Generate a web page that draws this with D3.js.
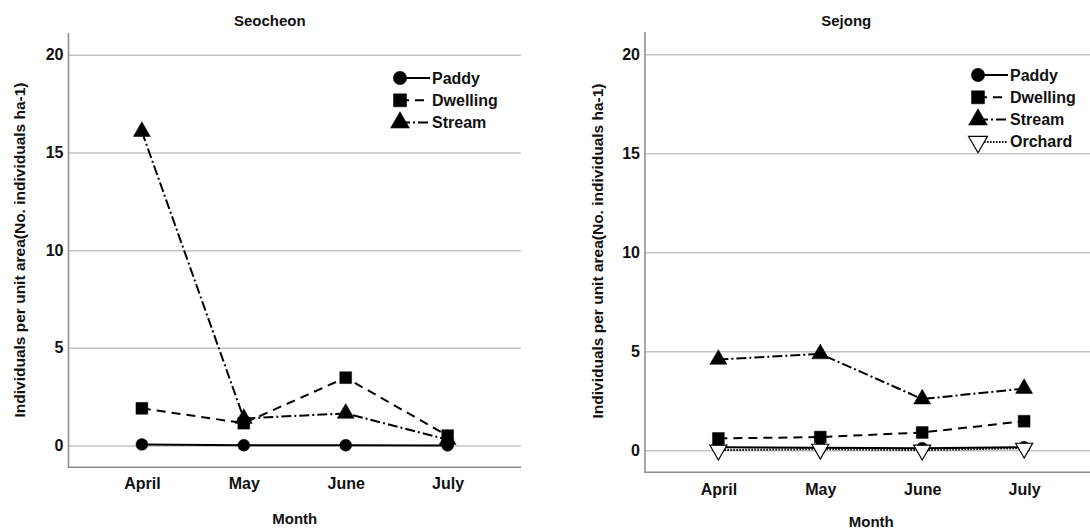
<!DOCTYPE html>
<html>
  <head>
    <meta charset="UTF-8">
    <style>
      body {
        margin: 0;
        background: white;
        font-family: "Liberation Sans", Arial, Helvetica, sans-serif;
      }

      text {
        font-weight: bold;
        fill: #111;
      }

      .grid line {
        stroke: #c4c4c4;
        stroke-width: 1.5;
      }

      .grid path {
        display: none;
      }

      .frame {
        stroke: #8c8c8c;
        stroke-width: 1.5;
        fill: none;
      }
    </style>
    <script src="https://d3js.org/d3.v7.min.js"></script>
  </head>

  <body>
    <svg id="chart"></svg>

    <script type="text/javascript">
      const months = ['April', 'May', 'June', 'July']
      const yTicks = [0, 5, 10, 15, 20]

      const seocheonPaddy = [0.05, 0.01, 0.01, 0.0]
      const seocheonDwelling = [1.9, 1.14, 3.47, 0.5]
      const seocheonStream = [16.07, 1.38, 1.64, 0.3]

      const sejongPaddy = [0.14, 0.12, 0.1, 0.15]
      const sejongDwelling = [0.59, 0.66, 0.89, 1.46]
      const sejongStream = [4.58, 4.86, 2.58, 3.11]
      const sejongOrchard = [0.0, 0.05, 0.0, 0.1]

      const styles = {
        Paddy: {symbol: d3.symbolCircle, size: 110, dash: null, fill: 'black', rotate: 0},
        Dwelling: {symbol: d3.symbolSquare, size: 140, dash: '9,6', fill: 'black', rotate: 0},
        Stream: {symbol: d3.symbolTriangle, size: 125, dash: '10,3,2,3', fill: 'black', rotate: 0},
        Orchard: {symbol: d3.symbolTriangle, size: 125, dash: '1.5,1.5', fill: 'white', rotate: 180}
      }

      const width = 1090
      const height = 530

      let svg = d3.select('#chart')
        .attr('width', width)
        .attr('height', height)

      function getPanelConfig(title, left, top, bottom, extra) {
        return Object.assign({
          title: title,
          left: left,
          plotWidth: 452.5,
          top: top,
          bottom: bottom
        }, extra)
      }

      function styleTicks(axis) {
        axis.select('.domain').remove()
        axis.selectAll('text')
          .style('font-size', '16px')
          .style('font-family', '"Liberation Sans", Arial, sans-serif')
          .style('font-weight', 'bold')
          .attr('fill', '#111')
      }

      function drawPanel(config, series) {
        let {left, plotWidth, top, bottom} = config

        let x = d3.scalePoint()
          .domain(months)
          .range([left, left + plotWidth])
          .padding(0.72)

        let y = d3.scaleLinear()
          .domain([-1.12, 21.12])
          .range([bottom, top])

        let g = svg.append('g')

        // horizontal grid
        g.append('g')
          .attr('class', 'grid')
          .attr('transform', `translate(${left}, 0)`)
          .call(d3.axisLeft(y)
            .tickValues(yTicks)
            .tickSize(-plotWidth)
            .tickFormat(''))

        // left and bottom axis lines
        g.append('path')
          .attr('class', 'frame')
          .attr('d', `M${left},${top}V${bottom}H${left + plotWidth}`)

        let axisY = g.append('g')
          .attr('transform', `translate(${left}, 0)`)
          .call(d3.axisLeft(y)
            .tickValues(yTicks)
            .tickSize(0)
            .tickPadding(5))
        styleTicks(axisY)

        let axisX = g.append('g')
          .attr('transform', `translate(0, ${bottom})`)
          .call(d3.axisBottom(x)
            .tickSize(0)
            .tickPadding(config.xPad))
        styleTicks(axisX)

        // titles
        g.append('text')
          .attr('x', left + plotWidth / 2 - 25)
          .attr('y', 26)
          .attr('text-anchor', 'middle')
          .style('font-size', '15px')
          .text(config.title)

        g.append('text')
          .attr('x', left + plotWidth / 2)
          .attr('y', config.monthY)
          .attr('text-anchor', 'middle')
          .style('font-size', '15px')
          .text('Month')

        g.append('text')
          .attr('transform', `translate(${config.labelX}, ${config.labelY}) rotate(-90)`)
          .attr('text-anchor', 'middle')
          .attr('dominant-baseline', 'central')
          .style('font-size', '15.5px')
          .text('Individuals per unit area(No. individuals ha-1)')

        // lines and markers
        let line = d3.line()
          .x((d, i) => x(months[i]))
          .y(d => y(d))

        series.forEach(s => {
          let st = styles[s.name]
          g.append('path')
            .attr('d', line(s.values))
            .attr('fill', 'none')
            .attr('stroke', 'black')
            .attr('stroke-width', 2)
            .attr('stroke-dasharray', st.dash)
        })

        series.forEach(s => {
          let st = styles[s.name]
          g.selectAll(null)
            .data(s.values)
            .enter()
            .append('path')
            .attr('d', d3.symbol().type(st.symbol).size(st.size))
            .attr('transform', (d, i) => `translate(${x(months[i])}, ${y(d)}) rotate(${st.rotate})`)
            .attr('fill', st.fill)
            .attr('stroke', 'black')
            .attr('stroke-width', st.fill === 'white' ? 1.2 : 0.5)
        })

        // legend
        let legend = g.selectAll('.legend')
          .data(series)
          .enter()
          .append('g')
          .attr('class', 'legend')
          .attr('transform', (d, i) => `translate(${config.legendX}, ${config.legendY + i * 22.3})`)

        legend.append('line')
          .attr('x1', 0)
          .attr('x2', 30)
          .attr('stroke', 'black')
          .attr('stroke-width', 2)
          .attr('stroke-dasharray', d => styles[d.name].dash)

        legend.append('path')
          .attr('d', d => d3.symbol().type(styles[d.name].symbol).size(styles[d.name].size + 30)())
          .attr('transform', d => `rotate(${styles[d.name].rotate})`)
          .attr('fill', d => styles[d.name].fill)
          .attr('stroke', 'black')
          .attr('stroke-width', d => styles[d.name].fill === 'white' ? 1.2 : 0.5)

        legend.append('text')
          .attr('x', 32)
          .attr('dominant-baseline', 'central')
          .style('font-size', '16px')
          .text(d => d.name)
      }

      drawPanel(
        getPanelConfig('Seocheon', 68.5, 33, 467.3, {
          xPad: 10, monthY: 523.5, labelX: 19, labelY: 250, legendX: 400, legendY: 78
        }),
        [
          {name: 'Paddy', values: seocheonPaddy},
          {name: 'Dwelling', values: seocheonDwelling},
          {name: 'Stream', values: seocheonStream}
        ]
      )

      drawPanel(
        getPanelConfig('Sejong', 645, 32, 472.3, {
          xPad: 11, monthY: 527, labelX: 597, labelY: 251, legendX: 978, legendY: 75
        }),
        [
          {name: 'Paddy', values: sejongPaddy},
          {name: 'Dwelling', values: sejongDwelling},
          {name: 'Stream', values: sejongStream},
          {name: 'Orchard', values: sejongOrchard}
        ]
      )
    </script>
  </body>
</html>
